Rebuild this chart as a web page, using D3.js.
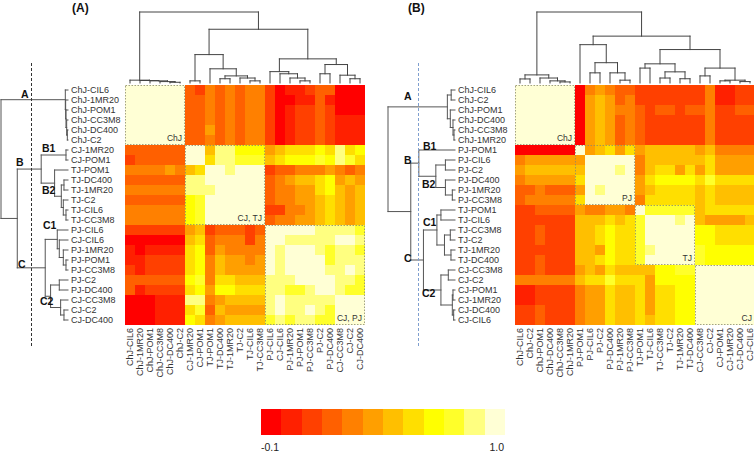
<!DOCTYPE html>
<html><head><meta charset="utf-8">
<script src="https://cdn.jsdelivr.net/npm/d3@7"></script>
<style>body{margin:0;background:#fff}svg{display:block}text{font-family:"Liberation Sans",Arial,sans-serif}</style>
</head><body><svg id="c" width="754" height="453"></svg>
<script>
// ---------- DATA ----------
const labelsA = ["ChJ-CIL6","ChJ-1MR20","ChJ-POM1","ChJ-CC3M8","ChJ-DC400","ChJ-C2","CJ-1MR20","CJ-POM1","TJ-POM1","TJ-DC400","TJ-1MR20","TJ-C2","TJ-CIL6","TJ-CC3M8","PJ-CIL6","CJ-CIL6","PJ-1MR20","PJ-POM1","PJ-CC3M8","PJ-C2","PJ-DC400","CJ-CC3M8","CJ-C2","CJ-DC400"];
const labelsB = ["ChJ-CIL6","ChJ-C2","ChJ-POM1","ChJ-DC400","ChJ-CC3M8","ChJ-1MR20","PJ-POM1","PJ-CIL6","PJ-C2","PJ-DC400","PJ-1MR20","PJ-CC3M8","TJ-POM1","TJ-CIL6","TJ-CC3M8","TJ-C2","TJ-1MR20","TJ-DC400","CJ-CC3M8","CJ-C2","CJ-POM1","CJ-1MR20","CJ-DC400","CJ-CIL6"];

const corrA = [
[1,1,1,1,1,1,.2,.1,.3,.2,.3,.2,.3,.3,.1,-.1,0,0,.1,.2,.2,-.1,-.1,-.1],
[1,1,1,1,1,1,.2,.2,.3,.2,.3,.2,.3,.3,.1,-.1,-.1,0,0,.2,0,-.1,-.1,-.1],
[1,1,1,1,1,1,.2,.2,.3,.2,.3,.2,.3,.3,.1,-.1,0,.1,.1,.2,.1,-.1,-.1,-.1],
[1,1,1,1,1,1,.2,.2,.3,.2,.3,.2,.3,.3,.1,-.1,0,.1,.1,.2,.1,0,0,0],
[1,1,1,1,1,1,.2,.2,.4,.2,.3,.2,.3,.3,.1,-.1,0,.1,.1,.2,.1,0,0,0],
[1,1,1,1,1,1,.2,.2,.3,.2,.3,.2,.3,.3,.1,-.1,0,.1,.1,.2,.1,0,0,0],
[.2,.2,.2,.2,.2,.2,1,1,.5,.9,.9,.7,.7,.7,.4,.5,.6,.6,.6,.7,.6,.9,.6,.7],
[.1,.2,.2,.2,.2,.2,1,1,.6,.9,.9,.8,.8,.8,.5,.6,.7,.7,.7,.8,.7,.9,.8,.6],
[.3,.3,.3,.3,.4,.3,.5,.6,1,1,.9,1,1,1,.1,.2,.2,.3,.3,.3,.4,.3,.2,.3],
[.2,.2,.2,.2,.2,.2,.9,.9,1,1,1,1,1,1,.2,.3,.4,.5,.5,.6,.7,.4,.5,.4],
[.3,.3,.3,.3,.3,.3,.9,.9,.9,1,1,1,1,1,.2,.3,.3,.4,.4,.6,.7,.5,.4,.5],
[.2,.2,.2,.2,.2,.2,.7,.8,1,1,1,1,1,1,.2,.3,.3,.4,.4,.5,.6,.5,.4,.5],
[.3,.3,.3,.3,.3,.3,.7,.8,1,1,1,1,1,1,.1,.1,.3,.3,.4,.5,.6,.5,.4,.5],
[.3,.3,.3,.3,.3,.3,.7,.8,1,1,1,1,1,1,.2,.3,.3,.4,.4,.5,.6,.5,.4,.5],
[.1,.1,.1,.1,.1,.1,.4,.5,.1,.2,.2,.2,.1,.2,1,1,1,1,1,.9,.9,.9,.9,.8],
[-.1,-.1,-.1,-.1,-.1,-.1,.5,.6,.2,.3,.3,.3,.1,.3,1,1,.9,.9,.9,.9,.9,1,1,.9],
[0,-.1,0,0,0,0,.6,.7,.2,.4,.3,.3,.3,.3,1,.9,1,1,1,.9,.8,.9,.9,.8],
[0,0,.1,.1,.1,.1,.6,.7,.3,.5,.4,.4,.3,.4,1,.9,1,1,1,1,.8,.9,.9,.9],
[.1,0,.1,.1,.1,.1,.6,.7,.3,.5,.4,.4,.4,.4,1,.9,1,1,1,1,.9,.9,1,.9],
[.2,.2,.2,.2,.2,.2,.7,.8,.3,.6,.6,.5,.5,.5,.9,.9,.9,1,1,1,1,.9,.9,.8],
[.2,0,.1,.1,.1,.1,.6,.7,.4,.7,.7,.6,.6,.6,.9,.9,.8,.8,.9,1,1,.9,.8,.8],
[-.1,-.1,-.1,0,0,0,.9,.9,.3,.4,.5,.5,.5,.5,.9,1,.9,.9,.9,.9,.9,1,1,1],
[-.1,-.1,-.1,0,0,0,.6,.8,.2,.5,.4,.4,.4,.4,.9,1,.9,.9,1,.9,.8,1,1,1],
[-.1,-.1,-.1,0,0,0,.7,.6,.3,.4,.5,.5,.5,.5,.8,.9,.8,.9,.9,.8,.8,1,1,1]
];

const corrB = [
[1,1,1,1,1,1,-.1,.3,.4,.3,.2,.2,.1,.1,.1,.1,.1,.1,.1,.3,0,0,.1,.1],
[1,1,1,1,1,1,-.1,.4,.5,.4,.2,.3,.1,.1,.1,.1,.1,.1,.1,.3,0,0,.1,.1],
[1,1,1,1,1,1,-.1,.4,.5,.4,.3,.3,.2,.1,.2,.2,.1,.2,.2,.3,.1,.1,.2,.2],
[1,1,1,1,1,1,-.1,.4,.5,.4,.2,.3,.2,.1,.1,.1,.1,.1,.1,.3,.1,.1,.1,.1],
[1,1,1,1,1,1,-.1,.4,.5,.4,.2,.3,.2,.1,.1,.1,.1,.1,.1,.3,.1,.1,.1,.1],
[1,1,1,1,1,1,-.1,.4,.5,.4,.2,.3,.2,.1,.1,.1,.1,.1,.1,.3,.1,.1,.1,.1],
[-.1,-.1,-.1,-.1,-.1,-.1,1,.4,.5,.6,.4,.6,.4,.5,.5,.5,.5,.5,.4,.5,.3,.3,.3,.3],
[.3,.4,.4,.4,.4,.4,.4,1,1,1,1,1,.3,.5,.5,.5,.5,.5,.5,.6,.4,.4,.4,.4],
[.4,.5,.5,.5,.5,.5,.5,1,1,1,.9,1,.3,.5,.6,.6,.4,.6,.4,.6,.4,.4,.4,.4],
[.3,.4,.4,.4,.4,.4,.6,1,1,1,1,1,.4,.6,.7,.7,.7,.7,.6,.8,.6,.6,.6,.6],
[.2,.2,.3,.2,.2,.2,.4,1,.9,1,1,1,.4,.5,.6,.6,.6,.6,.5,.6,.5,.5,.5,.5],
[.2,.3,.3,.3,.3,.3,.6,1,1,1,1,1,.3,.6,.6,.6,.6,.6,.5,.6,.5,.5,.5,.5],
[.1,.1,.2,.2,.2,.2,.4,.3,.3,.4,.4,.3,1,.8,.8,.8,.8,.8,.5,.6,.6,.6,.6,.6],
[.1,.1,.1,.1,.1,.1,.5,.5,.5,.6,.5,.6,.8,1,1,1,.9,1,.5,.4,.4,.4,.4,.5],
[.1,.1,.2,.1,.1,.1,.5,.5,.6,.7,.6,.6,.8,1,1,1,1,1,.7,.7,.6,.6,.6,.6],
[.1,.1,.2,.1,.1,.1,.5,.5,.6,.7,.6,.6,.8,1,1,1,1,1,.7,.7,.6,.6,.6,.6],
[.1,.1,.1,.1,.1,.1,.5,.5,.4,.7,.6,.6,.8,.9,1,1,1,1,.8,.7,.7,.7,.7,.7],
[.1,.1,.2,.1,.1,.1,.5,.5,.6,.7,.6,.6,.8,1,1,1,1,1,.8,.7,.7,.7,.7,.7],
[.1,.1,.2,.1,.1,.1,.4,.5,.4,.6,.5,.5,.5,.5,.7,.7,.8,.8,1,1,1,1,1,1],
[.3,.3,.3,.3,.3,.3,.5,.6,.6,.8,.6,.6,.6,.4,.7,.7,.7,.7,1,1,1,1,1,1],
[0,0,.1,.1,.1,.1,.3,.4,.4,.6,.5,.5,.6,.4,.6,.6,.7,.7,1,1,1,1,1,1],
[0,0,.1,.1,.1,.1,.3,.4,.4,.6,.5,.5,.6,.4,.6,.6,.7,.7,1,1,1,1,1,1],
[.1,.1,.2,.1,.1,.1,.3,.4,.4,.6,.5,.5,.6,.4,.6,.6,.7,.7,1,1,1,1,1,1],
[.1,.1,.2,.1,.1,.1,.3,.4,.4,.6,.5,.5,.6,.5,.6,.6,.7,.7,1,1,1,1,1,1]
];

// dendrograms: [mergeHeight, left, right]; leaves are row/column indices
const treeA = [1.0,
  [0.04, 0, [0.035, 1, [0.03, 2, [0.02, 3, [0.01, 4, 5]]]]],
  [0.757,
    [0.40, [0.03, 6, 7], [0.20, 8, [0.10, [0.06, 9, 10], [0.07, 11, [0.03, 12, 13]]]]],
    [0.34, [0.16, 14, [0.13, 15, [0.07, 16, [0.03, 17, 18]]]],
           [0.26, [0.13, 19, 20], [0.11, 21, [0.06, 22, 23]]]]]];
const treeB = [1.0,
  [0.114, [0.057, 0, 1], [0.07, 2, [0.03, 3, [0.015, 4, 5]]]],
  [0.66,
    [0.54, 6, [0.286, [0.143, 7, 8], [0.143, 9, [0.04, 10, 11]]]],
    [0.471, [0.27, [0.21, 12, 13], [0.157, [0.07, 14, 15], [0.06, 16, 17]]],
            [0.21, [0.10, 18, 19], [0.04, [0.03, 20, 21], [0.02, 22, 23]]]]]];

const blocksA = [[0, 5, "ChJ"], [6, 13, "CJ, TJ"], [14, 23, "CJ, PJ"]];
const blocksB = [[0, 5, "ChJ"], [6, 11, "PJ"], [12, 17, "TJ"], [18, 23, "CJ"]];
const cladeNames = ["A", "B", "B1", "B2", "C", "C1", "C2"];
const heatColors = ["#FF0000","#FF2000","#FF4000","#FF6000","#FF8000","#FF9F00","#FFBF00","#FFDF00","#FFFF00","#FFFF2A","#FFFF80","#FFFFD5"];
const legendTicks = ["-0.1", "1.0"];
const panelTitles = ["(A)", "(B)"];

// ---------- DRAW ----------
const svg = d3.select("#c");
const color = d3.scaleQuantize().domain([-0.1, 1]).range(heatColors);

function layout(node, band) {
  if (typeof node === "number") return {p: band(node) + band.bandwidth() / 2, h: 0};
  const a = layout(node[1], band), b = layout(node[2], band);
  return {p: (a.p + b.p) / 2, h: node[0], kids: [a, b]};
}
function segs(n, out) {
  if (!n.kids) return out;
  n.kids.forEach(k => { out.push([k.p, k.h, k.p, n.h]); segs(k, out); });
  out.push([n.kids[0].p, n.h, n.kids[1].p, n.h]);
  return out;
}

function panel(cfg) {
  const g = svg.append("g");
  const n = cfg.labels.length;
  const xb = d3.scaleBand().domain(d3.range(n)).range([cfg.x0, cfg.x0 + 240]);
  const yb = d3.scaleBand().domain(d3.range(n)).range([cfg.y0, cfg.y0 + 240]);
  const cells = [];
  cfg.data.forEach((row, i) => row.forEach((v, j) => cells.push({i, j, v})));
  g.append("g").attr("shape-rendering", "crispEdges").selectAll("rect").data(cells).join("rect")
    .attr("x", d => xb(d.j)).attr("y", d => yb(d.i))
    .attr("width", xb.bandwidth() + 0.3).attr("height", yb.bandwidth() + 0.3)
    .attr("fill", d => color(d.v));
  // blocks
  cfg.blocks.forEach(([a, b, t]) => {
    g.append("rect").attr("x", xb(a) + 0.5).attr("y", yb(a) + 0.5)
      .attr("width", xb(b) + xb.bandwidth() - xb(a) - 1).attr("height", yb(b) + yb.bandwidth() - yb(a) - 1)
      .attr("fill", "none").attr("stroke", "#8a8a70").attr("stroke-width", 0.8).attr("stroke-dasharray", "1.5,1.5");
    g.append("text").attr("x", xb(b) + xb.bandwidth() - 3).attr("y", yb(b) + yb.bandwidth() - 4)
      .attr("text-anchor", "end").attr("font-size", 8.5).attr("fill", "#333").text(t);
  });
  // top dendrogram
  const ty = d3.scaleLinear().domain([0, 1]).range([83, 12]);
  const topS = segs(layout(cfg.tree, xb), []);
  g.append("g").selectAll("line").data(topS).join("line")
    .attr("x1", d => d[0]).attr("y1", d => ty(d[1])).attr("x2", d => d[2]).attr("y2", d => ty(d[3]))
    .attr("stroke", "#444").attr("stroke-width", 1).attr("stroke-linecap", "square");
  // left dendrogram
  const lx = d3.scaleLinear().domain([0, 1]).range([cfg.leafX, cfg.rootX]);
  const leftS = segs(layout(cfg.tree, yb), []);
  g.append("g").selectAll("line").data(leftS).join("line")
    .attr("y1", d => d[0]).attr("x1", d => lx(d[1])).attr("y2", d => d[2]).attr("x2", d => lx(d[3]))
    .attr("stroke", "#555").attr("stroke-width", 1).attr("stroke-linecap", "square");
  // row labels
  g.append("g").selectAll("text").data(cfg.labels).join("text")
    .attr("x", cfg.leafX + 3).attr("y", (d, i) => yb(i) + yb.bandwidth() / 2).attr("dy", "0.35em")
    .attr("font-size", 9).attr("fill", "#333").text(d => d);
  // column labels
  g.append("g").selectAll("text").data(cfg.labels).join("text")
    .attr("transform", (d, i) => `translate(${xb(i) + xb.bandwidth() / 2},${cfg.y0 + 243}) rotate(-90)`)
    .attr("text-anchor", "end").attr("dy", "0.35em")
    .attr("font-size", 9).attr("fill", "#333").text(d => d);
  // dashed guide line
  g.append("line").attr("x1", cfg.dashX).attr("x2", cfg.dashX).attr("y1", 63).attr("y2", 346)
    .attr("stroke", cfg.dashColor).attr("stroke-width", 1).attr("stroke-dasharray", "3,2");
  // clade annotations
  cladeNames.forEach((t, k) => {
    g.append("text").attr("x", cfg.cladePos[k][0]).attr("y", cfg.cladePos[k][1])
      .attr("font-size", 10.5).attr("font-weight", "bold").attr("fill", "#111").text(t);
  });
  g.append("text").attr("x", cfg.titleX).attr("y", 12).attr("font-size", 12).attr("font-weight", "bold")
    .attr("fill", "#111").text(cfg.title);
}

panel({labels: labelsA, data: corrA, tree: treeA, blocks: blocksA, x0: 125, y0: 85,
  leafX: 68, rootX: 1, dashX: 31.5, dashColor: "#333", title: panelTitles[0], titleX: 72,
  cladePos: [[21, 98], [16, 166], [42, 152], [42, 194], [18, 268], [43, 229], [40, 305]]});
panel({labels: labelsB, data: corrB, tree: treeB, blocks: blocksB, x0: 515, y0: 85,
  leafX: 455, rootX: 388, dashX: 418.5, dashColor: "#7f9fcf", title: panelTitles[1], titleX: 408,
  cladePos: [[404, 100], [404, 164], [423, 150], [422, 188], [404, 262], [423, 226], [422, 297]]});

// legend
const lb = d3.scaleBand().domain(d3.range(heatColors.length)).range([261, 505]);
svg.append("g").attr("shape-rendering", "crispEdges").selectAll("rect").data(heatColors).join("rect")
  .attr("x", (d, i) => lb(i)).attr("y", 409).attr("width", lb.bandwidth() + 0.3).attr("height", 26)
  .attr("fill", d => d);
svg.append("text").attr("x", 261).attr("y", 451).attr("font-size", 10.5).attr("fill", "#222").text(legendTicks[0]);
svg.append("text").attr("x", 504).attr("y", 451).attr("text-anchor", "end").attr("font-size", 10.5).attr("fill", "#222").text(legendTicks[1]);
</script></body></html>
